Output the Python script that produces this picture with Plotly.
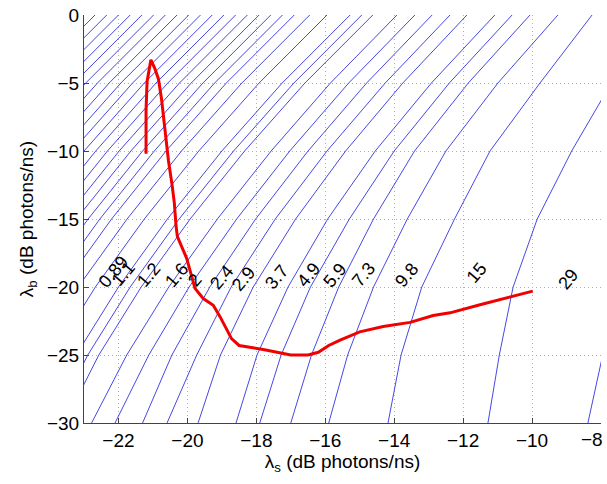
import plotly.graph_objects as go

# ---------------- data ----------------
X_TICKS = [-22, -20, -18, -16, -14, -12, -10, -8]
X_TICK_TEXT = ["−22", "−20", "−18", "−16", "−14", "−12", "−10", ""]
X_EDGE_LABEL = "−8"
Y_TICKS = [0, -5, -10, -15, -20, -25, -30]

# y levels at which each contour's x position was read
CONTOUR_Y = [0, -5, -10, -15, -20, -25, -30]
# x position of every contour line at the y levels above
CONTOUR_X = [
    [-22.68, -24.65, -26.40, -27.98, -29.40, -30.63, -31.63],
    [-22.34, -24.31, -26.06, -27.64, -29.06, -30.29, -31.29],
    [-22.00, -23.97, -25.72, -27.30, -28.72, -29.95, -30.95],
    [-21.66, -23.63, -25.38, -26.96, -28.38, -29.61, -30.61],
    [-21.32, -23.29, -25.04, -26.62, -28.04, -29.27, -30.27],
    [-20.98, -22.95, -24.70, -26.28, -27.70, -28.93, -29.93],
    [-20.64, -22.61, -24.36, -25.94, -27.36, -28.59, -29.59],
    [-20.30, -22.27, -24.02, -25.60, -27.02, -28.25, -29.25],
    [-19.96, -21.93, -23.68, -25.26, -26.68, -27.91, -28.91],
    [-19.62, -21.59, -23.34, -24.92, -26.34, -27.57, -28.57],
    [-19.28, -21.25, -23.00, -24.58, -26.00, -27.23, -28.23],
    [-18.94, -20.91, -22.66, -24.24, -25.66, -26.89, -27.89],
    [-18.60, -20.57, -22.32, -23.90, -25.32, -26.55, -27.55],
    [-18.26, -20.23, -21.98, -23.56, -24.98, -26.21, -27.21],
    [-17.92, -19.89, -21.64, -23.22, -24.64, -25.87, -26.87],
    [-17.58, -19.55, -21.30, -22.88, -24.30, -25.53, -26.53],
    [-17.24, -19.21, -20.96, -22.54, -23.96, -25.19, -26.19],
    [-16.90, -18.87, -20.62, -22.20, -23.62, -24.85, -25.85],
    [-16.45, -18.42, -20.17, -21.75, -23.17, -24.40, -25.40],
    [-15.95, -17.92, -19.67, -21.25, -22.67, -23.90, -24.90],
    [-15.28, -17.25, -19.00, -20.58, -22.00, -23.23, -24.23],
    [-14.94, -16.91, -18.66, -20.24, -21.66, -22.89, -23.89],
    [-14.62, -16.59, -18.34, -19.92, -21.34, -22.57, -23.57],
    [-13.92, -15.85, -17.57, -19.13, -20.54, -21.76, -22.78],
    [-13.40, -15.32, -17.03, -18.57, -19.95, -21.12, -22.10],
    [-12.90, -14.80, -16.50, -18.02, -19.35, -20.45, -21.30],
    [-12.38, -14.26, -15.95, -17.45, -18.73, -19.73, -20.59],
    [-11.89, -13.75, -15.41, -16.86, -18.09, -19.04, -19.69],
    [-11.08, -12.92, -14.55, -15.93, -17.08, -17.98, -18.59],
    [-10.58, -12.40, -14.00, -15.30, -16.43, -17.28, -17.90],
    [-10.06, -11.85, -13.41, -14.60, -15.61, -16.40, -17.00],
    [-9.25, -10.99, -12.50, -13.62, -14.60, -15.35, -15.90],
    [-8.26, -9.77, -11.22, -12.25, -13.20, -13.80, -14.18],
    [-6.40, -7.70, -8.85, -9.85, -10.55, -10.95, -11.28],
    [-4.00, -5.00, -6.00, -6.90, -7.60, -7.95, -8.38],
]

LABEL_TEXT = ["0.89", "1.1", "1.2", "1.6", "2", "2.4", "2.9", "3.7",
              "4.9", "5.9", "7.3", "9.8", "15", "29"]
LABEL_X = [-22.15, -21.86, -21.13, -20.31, -19.78, -19.00, -18.38, -17.41,
           -16.49, -15.72, -14.90, -13.64, -11.61, -8.95]
LABEL_Y = [-18.9, -19.06, -19.1, -19.1, -19.5, -19.25, -19.4, -19.25,
           -19.1, -19.1, -19.1, -19.1, -19.0, -19.4]

RED_X = [-21.20, -21.20, -21.17, -21.14, -21.06, -20.95, -20.84, -20.75,
         -20.65, -20.55, -20.45, -20.38, -20.33, -20.29, -20.02, -19.78,
         -19.54, -19.25, -19.05, -18.72, -18.50, -17.80, -17.00, -16.50,
         -16.20, -15.90, -15.57, -15.00, -14.32, -13.54, -12.87, -12.38,
         -11.51, -10.64, -9.98]
RED_Y = [-10.2, -7.0, -4.9, -4.4, -3.3, -3.9, -4.7, -6.2,
         -8.5, -10.7, -12.4, -13.8, -15.5, -16.3, -17.9, -20.1,
         -20.85, -21.34, -22.2, -23.8, -24.3, -24.6, -25.0, -25.0,
         -24.8, -24.3, -23.9, -23.3, -22.9, -22.6, -22.1, -21.9,
         -21.3, -20.7, -20.3]

# ---------------- figure ----------------
FONT = "Liberation Sans, Arial, Helvetica, sans-serif"

cx, cy = [], []
for row in CONTOUR_X:
    cx.extend(row + [None])
    cy.extend(CONTOUR_Y + [None])

fig = go.Figure()
fig.add_trace(go.Scatter(x=cx, y=cy, mode="lines",
                         line=dict(color="rgb(50,50,225)", width=0.9),
                         hoverinfo="skip"))
fig.add_trace(go.Scatter(x=RED_X, y=RED_Y, mode="lines",
                         line=dict(color="rgb(240,0,0)", width=3),
                         hoverinfo="skip"))

for t, x, y in zip(LABEL_TEXT, LABEL_X, LABEL_Y):
    fig.add_annotation(x=x, y=y, text=t, showarrow=False, textangle=-50,
                       font=dict(family=FONT, size=18, color="black"),
                       xanchor="center", yanchor="middle")

# tick label at the right edge of the x axis
fig.add_annotation(x=X_TICKS[-1], xref="x", y=0, yref="paper",
                   text=X_EDGE_LABEL, showarrow=False,
                   xanchor="right", yanchor="top", xshift=4, yshift=-4,
                   font=dict(family=FONT, size=19, color="black"))

axis_common = dict(
    showline=True, linecolor="#444", linewidth=1, mirror=False,
    ticks="inside", ticklen=5, tickcolor="#444",
    showgrid=True, gridcolor="#b0b0b0", griddash="1px,3px", gridwidth=1,
    zeroline=False, tickfont=dict(family=FONT, size=19, color="black"),
    automargin=False,
)
fig.update_xaxes(range=[-23, -8], tickvals=X_TICKS, ticktext=X_TICK_TEXT,
                 title=dict(text="λ<sub>s</sub> (dB photons/ns)",
                            font=dict(family=FONT, size=19), standoff=3),
                 **axis_common)
fig.update_yaxes(range=[-30, 0], tickvals=Y_TICKS,
                 title=dict(text="λ<sub>b</sub> (dB photons/ns)",
                            font=dict(family=FONT, size=19), standoff=8),
                 **axis_common)

fig.update_layout(width=607, height=484,
                  margin=dict(l=84, r=6, t=15, b=61),
                  plot_bgcolor="white", paper_bgcolor="white",
                  showlegend=False,
                  font=dict(family=FONT, size=19, color="black"))

fig.write_html("out.html",
               config={"displayModeBar": False},
               post_script="document.body.style.margin='0px';"
                           "document.body.style.overflow='hidden';")
